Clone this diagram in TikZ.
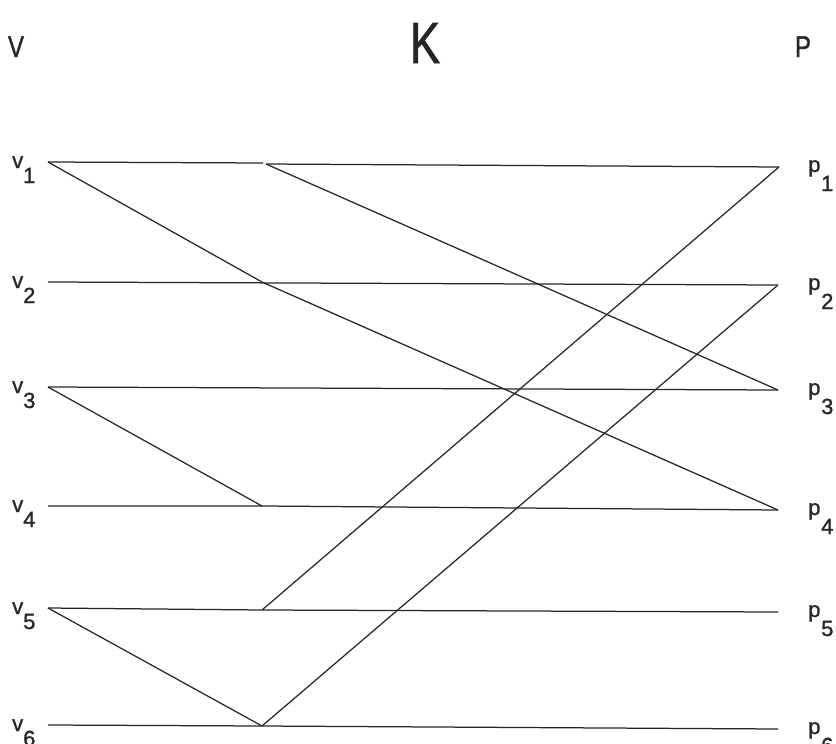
\documentclass[tikz,border=0pt]{standalone}
\usepackage{fontspec}
\setmainfont{Liberation Sans}
\newfontfamily\labfont[FakeBold=1.2]{Liberation Sans}
\begin{document}
\begin{tikzpicture}[x=1pt,y=-1pt,
  edge/.style={line width=1.25pt,draw=black!85},
  lab/.style={inner sep=0pt,anchor=base west,font=\labfont\fontsize{22}{22}\selectfont,text=black!85},
  head/.style={inner sep=0pt,anchor=base,font=\labfont\fontsize{30}{30}\selectfont,xscale=0.8,text=black!85},
  bighead/.style={inner sep=0pt,anchor=base,font=\labfont\fontsize{58}{58}\selectfont,xscale=0.78,text=black!85}]
\useasboundingbox (0,0) rectangle (836,744);
% headers
\node[head] (hV) at (16,57) {V};
\node[bighead] (hK) at (425,63) {K};
\node[head] (hP) at (803,57) {P};
% coordinates
\coordinate (V1) at (48,162);
\coordinate (V2) at (48,282);
\coordinate (V3) at (48,387);
\coordinate (V4) at (48,506);
\coordinate (V5) at (48,608);
\coordinate (V6) at (48,725);
\coordinate (K1) at (263,163);
\coordinate (K1b) at (266,164);
\coordinate (K2) at (262,282);
\coordinate (K4) at (262,506);
\coordinate (K5) at (262,610);
\coordinate (K6) at (262,726);
\coordinate (P1) at (779,167);
\coordinate (P2) at (778,285);
\coordinate (P3) at (778,390);
\coordinate (P4) at (778,510);
\coordinate (P5) at (778,612);
\coordinate (P6) at (778,729);
% edges
\draw[edge] (V1) -- (K1);
\draw[edge] (K1b) -- (P1);
\draw[edge] (K1b) -- (P3);
\draw[edge] (V1) -- (K2) -- (P4);
\draw[edge] (V2) -- (P2);
\draw[edge] (V3) -- (P3);
\draw[edge] (V3) -- (K4);
\draw[edge] (V4) -- (K4) -- (P4);
\draw[edge] (V5) -- (K5) -- (P5);
\draw[edge] (V5) -- (K6);
\draw[edge] (V6) -- (K6) -- (P6);
\draw[edge] (K6) -- (P2);
\draw[edge] (K5) -- (P1);
% labels
\foreach \i/\y in {1/162,2/282,3/387,4/506,5/608,6/725}{
  \node[lab] (lv\i) at (12,\y+6) {v};
  \node[lab] (lvs\i) at (23,\y+21) {\i};
}
\foreach \i/\y in {1/167,2/285,3/390,4/510,5/612,6/729}{
  \node[lab] (lp\i) at (808,\y+5) {p};
  \node[lab] (lps\i) at (821,\y+24) {\i};
}
\end{tikzpicture}
\end{document}
